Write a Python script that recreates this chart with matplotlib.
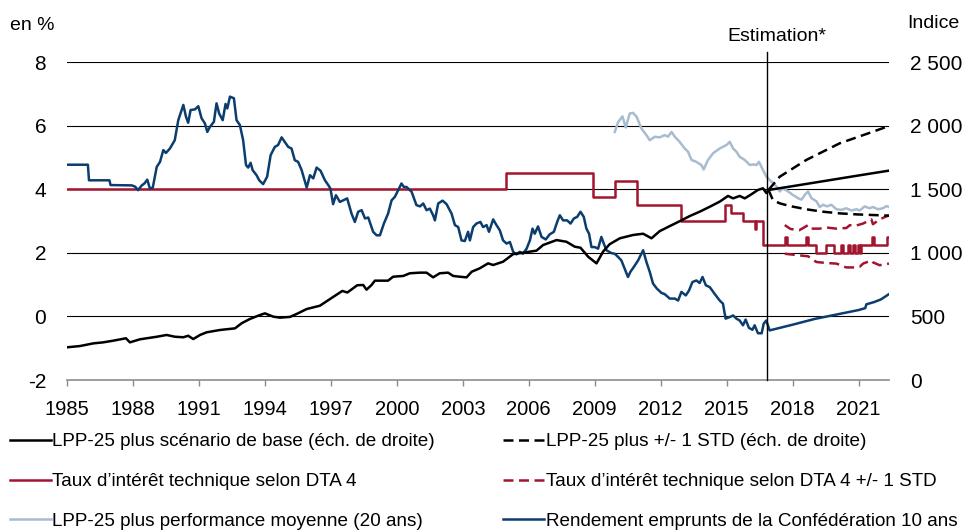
import matplotlib
matplotlib.use("Agg")
import matplotlib.pyplot as plt

# Rendement emprunts de la Confédération 10 ans (en %)
bond_years = [1985.00, 1985.95, 1986.00, 1986.93, 1986.98, 1987.95, 1988.10, 1988.23, 1988.40, 1988.52,
              1988.65, 1988.77, 1988.90, 1989.08, 1989.23, 1989.38, 1989.50, 1989.68, 1989.90, 1990.06,
              1990.29, 1990.41, 1990.51, 1990.62, 1990.82, 1990.97, 1991.12, 1991.27, 1991.38, 1991.50,
              1991.68, 1991.80, 1991.92, 1992.08, 1992.21, 1992.29, 1992.41, 1992.59, 1992.71, 1992.86,
              1993.01, 1993.14, 1993.24, 1993.35, 1993.44, 1993.62, 1993.74, 1993.92, 1994.10, 1994.26,
              1994.45, 1994.60, 1994.76, 1994.90, 1995.06, 1995.21, 1995.36, 1995.51, 1995.67, 1995.90,
              1996.05, 1996.20, 1996.35, 1996.53, 1996.73, 1996.88, 1996.98, 1997.10, 1997.23, 1997.41,
              1997.74, 1997.94, 1998.09, 1998.24, 1998.40, 1998.55, 1998.70, 1998.92, 1999.08, 1999.23,
              1999.41, 1999.60, 1999.76, 1999.91, 2000.06, 2000.21, 2000.32, 2000.44, 2000.67, 2000.89,
              2001.05, 2001.20, 2001.35, 2001.50, 2001.65, 2001.73, 2001.88, 2002.08, 2002.26, 2002.49,
              2002.64, 2002.79, 2002.94, 2003.09, 2003.24, 2003.32, 2003.47, 2003.62, 2003.80, 2003.92,
              2004.08, 2004.19, 2004.38, 2004.53, 2004.68, 2004.83, 2004.99, 2005.14, 2005.29, 2005.44,
              2005.59, 2005.74, 2005.90, 2006.05, 2006.17, 2006.27, 2006.42, 2006.58, 2006.77, 2006.95,
              2007.14, 2007.29, 2007.41, 2007.56, 2007.74, 2007.90, 2008.05, 2008.20, 2008.35, 2008.50,
              2008.62, 2008.74, 2008.85, 2009.00, 2009.15, 2009.30, 2009.41, 2009.53, 2009.76, 2009.91,
              2010.06, 2010.21, 2010.36, 2010.51, 2010.62, 2010.77, 2010.97, 2011.20, 2011.35, 2011.50,
              2011.65, 2011.83, 2012.03, 2012.18, 2012.41, 2012.64, 2012.79, 2012.94, 2013.14, 2013.29,
              2013.44, 2013.62, 2013.77, 2013.90, 2014.05, 2014.23, 2014.45, 2014.68, 2014.83, 2014.95,
              2015.14, 2015.29, 2015.44, 2015.59, 2015.74, 2015.86, 2016.01, 2016.17, 2016.27, 2016.42,
              2016.59, 2016.68, 2016.80, 2016.95, 2018.00, 2019.00, 2020.00, 2021.00, 2021.30, 2021.35,
              2021.70, 2022.00, 2022.38]
bond_values = [4.77, 4.77, 4.28, 4.28, 4.13, 4.12, 4.08, 3.97, 4.12, 4.18,
               4.30, 4.02, 4.05, 4.70, 4.86, 5.23, 5.14, 5.28, 5.54, 6.17,
               6.65, 6.28, 6.09, 6.49, 6.51, 6.61, 6.23, 6.07, 5.80, 5.96,
               6.12, 6.70, 6.38, 6.17, 6.68, 6.54, 6.91, 6.86, 6.17, 6.02,
               5.54, 4.76, 4.68, 4.83, 4.60, 4.44, 4.28, 4.16, 4.39, 5.07,
               5.33, 5.39, 5.63, 5.49, 5.33, 5.28, 4.91, 4.86, 4.60, 4.05,
               4.44, 4.34, 4.68, 4.58, 4.28, 4.13, 4.02, 3.53, 3.81, 3.60,
               3.71, 3.23, 2.97, 3.29, 3.34, 3.08, 3.11, 2.66, 2.55, 2.55,
               2.92, 3.23, 3.65, 3.76, 3.97, 4.18, 4.07, 4.07, 3.92, 3.50,
               3.46, 3.55, 3.34, 3.39, 3.18, 3.02, 3.55, 3.64, 3.53, 3.23,
               2.87, 2.81, 2.39, 2.37, 2.66, 2.39, 2.81, 2.92, 2.97, 2.81,
               2.87, 2.66, 3.05, 2.87, 2.71, 2.39, 2.29, 2.34, 2.03, 1.95,
               2.03, 1.97, 2.13, 2.39, 2.76, 2.60, 2.83, 2.50, 2.42, 2.58,
               2.66, 2.97, 3.18, 3.02, 3.02, 2.92, 3.08, 3.13, 3.29, 3.13,
               2.76, 2.60, 2.18, 2.18, 2.13, 2.50, 2.29, 2.08, 1.99, 1.97,
               1.87, 1.76, 1.50, 1.24, 1.40, 1.55, 1.76, 2.08, 1.71, 1.40,
               1.03, 0.87, 0.74, 0.70, 0.56, 0.56, 0.50, 0.77, 0.66, 0.82,
               1.08, 1.13, 1.05, 1.24, 0.98, 0.92, 0.71, 0.50, 0.40, -0.07,
               -0.02, 0.03, -0.07, -0.13, -0.28, -0.10, -0.36, -0.42, -0.28, -0.53,
               -0.53, -0.23, -0.13, -0.44, -0.26, -0.08, 0.06, 0.20, 0.26, 0.38,
               0.45, 0.53, 0.70]

# Taux d'intérêt technique selon DTA 4 (en %), valeurs en escalier
dta_years = [1985.00, 2004.95, 2008.92, 2009.90, 2010.90, 2012.90, 2014.90, 2015.20, 2015.75, 2016.27,
             2016.33, 2016.63, 2017.65, 2017.75, 2018.60, 2018.68, 2019.05, 2019.50, 2019.88, 2020.20,
             2020.30, 2020.50, 2020.62, 2020.75, 2020.85, 2020.95, 2021.05, 2021.12, 2021.60, 2021.68,
             2022.30, 2022.38]
dta_values = [4.00, 4.50, 3.75, 4.25, 3.50, 3.00, 3.50, 3.25, 3.00, 2.75,
              3.00, 2.25, 2.50, 2.25, 2.50, 2.25, 2.00, 2.25, 2.00, 2.25,
              2.00, 2.25, 2.00, 2.25, 2.00, 2.25, 2.00, 2.25, 2.50, 2.25,
              2.50, 2.50]

# Taux d'intérêt technique selon DTA 4 +/- 1 STD
dta_up_years = [2017.64, 2017.90, 2018.30, 2018.70, 2018.85, 2019.20, 2019.60, 2019.99, 2020.44, 2020.60,
                2020.80, 2021.20, 2021.58, 2021.65, 2021.95, 2022.38]
dta_up_values = [2.87, 2.75, 2.71, 2.87, 2.76, 2.76, 2.79, 2.76, 2.78, 2.87,
                 2.84, 2.92, 3.05, 2.90, 3.05, 3.18]
dta_lo_years = [2017.64, 2018.30, 2018.70, 2019.08, 2019.53, 2019.99, 2020.44, 2020.80, 2021.05, 2021.20,
                2021.58, 2021.65, 2021.95, 2022.38]
dta_lo_values = [1.97, 1.92, 1.89, 1.71, 1.68, 1.66, 1.54, 1.54, 1.56, 1.66,
                 1.76, 1.70, 1.61, 1.66]

# LPP-25 plus performance moyenne (20 ans), en %
perf_years = [2009.91, 2010.06, 2010.26, 2010.41, 2010.59, 2010.74, 2010.90, 2011.12, 2011.35, 2011.50,
              2011.73, 2011.95, 2012.18, 2012.33, 2012.49, 2012.64, 2012.86, 2013.09, 2013.24, 2013.40,
              2013.62, 2013.85, 2013.95, 2014.15, 2014.38, 2014.68, 2014.99, 2015.14, 2015.29, 2015.44,
              2015.59, 2015.82, 2016.05, 2016.20, 2016.35, 2016.47, 2016.65, 2016.80, 2017.03, 2017.26,
              2017.41, 2017.56, 2017.79, 2018.01, 2018.24, 2018.40, 2018.55, 2018.70, 2018.85, 2019.08,
              2019.23, 2019.38, 2019.56, 2019.76, 2019.99, 2020.21, 2020.44, 2020.67, 2020.90, 2021.05,
              2021.27, 2021.50, 2021.65, 2021.88, 2022.10, 2022.26, 2022.38]
perf_values = [5.80, 6.11, 6.29, 5.94, 6.38, 6.40, 6.28, 5.91, 5.70, 5.54,
               5.65, 5.63, 5.70, 5.65, 5.80, 5.65, 5.49, 5.28, 5.18, 4.92,
               4.86, 4.76, 4.62, 4.92, 5.13, 5.28, 5.39, 5.49, 5.28, 5.18,
               5.02, 4.92, 4.76, 4.78, 4.76, 4.86, 4.60, 4.40, 4.24, 4.09,
               3.93, 4.03, 3.93, 3.82, 3.72, 3.67, 3.82, 3.93, 3.72, 3.62,
               3.44, 3.51, 3.46, 3.51, 3.37, 3.35, 3.40, 3.33, 3.37, 3.33,
               3.46, 3.40, 3.44, 3.37, 3.40, 3.47, 3.44]

# LPP-25 plus scénario de base (indice, échelle de droite)
lpp_years = [1985.00, 1985.59, 1986.20, 1986.65, 1987.10, 1987.68, 1987.86, 1988.32, 1989.08, 1989.53,
             1989.91, 1990.29, 1990.51, 1990.74, 1991.05, 1991.35, 1991.95, 1992.26, 1992.64, 1992.94,
             1993.32, 1993.70, 1994.00, 1994.38, 1994.68, 1995.14, 1995.44, 1995.90, 1996.50, 1997.06,
             1997.52, 1997.75, 1998.20, 1998.47, 1998.62, 1998.85, 1999.00, 1999.60, 1999.83, 2000.29,
             2000.59, 2001.05, 2001.35, 2001.65, 2001.95, 2002.33, 2002.56, 2002.86, 2003.17, 2003.40,
             2003.77, 2004.15, 2004.38, 2004.83, 2005.29, 2005.74, 2006.35, 2006.65, 2007.26, 2007.71,
             2008.09, 2008.35, 2008.70, 2009.08, 2009.38, 2009.68, 2010.14, 2010.74, 2011.20, 2011.58,
             2011.95, 2012.41, 2012.94, 2013.32, 2013.77, 2014.23, 2014.68, 2015.06, 2015.29, 2015.59,
             2015.82, 2016.05, 2016.42, 2016.65, 2016.80, 2016.90, 2018.00, 2019.00, 2020.00, 2021.00,
             2022.38]
lpp_values = [257, 267, 288, 296, 309, 328, 296, 320, 340, 354,
              340, 336, 348, 322, 354, 375, 393, 399, 406, 446,
              480, 506, 524, 498, 490, 496, 519, 558, 584, 648,
              700, 688, 745, 747, 710, 747, 781, 781, 812, 818,
              839, 844, 844, 807, 839, 844, 818, 812, 807, 851,
              878, 917, 904, 930, 990, 1001, 1017, 1061, 1100, 1087,
              1048, 1040, 969, 917, 1010, 1068, 1114, 1140, 1150, 1114,
              1170, 1210, 1255, 1289, 1323, 1362, 1402, 1447, 1428, 1447,
              1428, 1452, 1494, 1507, 1470, 1494, 1524, 1552, 1580, 1608,
              1646]

# LPP-25 plus +/- 1 STD (échelle de droite)
lpp_up_years = [2016.90, 2017.41, 2018.62, 2020.14, 2021.65, 2022.38]
lpp_up_values = [1494, 1598, 1730, 1861, 1952, 1997]
lpp_lo_years = [2016.90, 2017.10, 2017.41, 2017.86, 2018.62, 2019.38, 2020.14, 2020.90, 2021.65, 2022.38]
lpp_lo_values = [1494, 1415, 1389, 1368, 1342, 1323, 1310, 1302, 1297, 1292]

estimation_year = 2016.85
x_ticks = list(range(1985, 2022, 3))
left_ticks = [-2, 0, 2, 4, 6, 8]
right_ticks = [0, 500, 1000, 1500, 2000, 2500]
right_labels = ["0", "500", "1 000", "1 500", "2 000", "2 500"]

BLUE = "#0b3d6e"
RED = "#a3152f"
GREY = "#a9bccf"

plt.rcParams["font.family"] = ["Liberation Sans", "DejaVu Sans"]

W, H = 972, 532
fig = plt.figure(figsize=(W / 100, H / 100), dpi=100)
ax = fig.add_axes([67 / W, 1 - 380 / H, (889 - 67) / W, (380 - 62) / H])
ax2 = ax.twinx()

for y in [0, 2, 4, 6, 8]:
    ax.axhline(y, color="black", lw=0.8, zorder=1)

lw = 1.8
dash = (0, (4, 2.2))
l_red, = ax.plot(dta_years, dta_values, color=RED, lw=lw, drawstyle="steps-post", zorder=3)
l_red_d, = ax.plot(dta_up_years, dta_up_values, color=RED, lw=lw, ls=dash, zorder=3)
ax.plot(dta_lo_years, dta_lo_values, color=RED, lw=lw, ls=dash, zorder=3)
l_grey, = ax.plot(perf_years, perf_values, color=GREY, lw=lw, zorder=3)
l_blue, = ax.plot(bond_years, bond_values, color=BLUE, lw=lw, zorder=4)

l_black, = ax2.plot(lpp_years, lpp_values, color="black", lw=lw)
l_black_d, = ax2.plot(lpp_up_years, lpp_up_values, color="black", lw=lw, ls=dash)
ax2.plot(lpp_lo_years, lpp_lo_values, color="black", lw=lw, ls=dash)

# estimation marker
ax.plot([estimation_year, estimation_year], [-2, 8.31], color="black", lw=1, clip_on=False, zorder=5)
ax.text(2017.3, 8.8, "Estimation*", ha="center", va="center", fontsize=14)

ax.set_xlim(1985, 2022.38)
ax.set_ylim(-2, 8)
ax2.set_ylim(0, 2500)

ax.set_xticks(x_ticks)
ax.set_xticklabels([str(t) for t in x_ticks])
ax.tick_params(axis="x", direction="out", length=4.5, width=1, color="#8c8c8c",
               labelsize=14.5, pad=10)
ax.set_yticks(left_ticks)
ax.set_yticklabels([str(t) for t in left_ticks])
ax.tick_params(axis="y", length=0, labelsize=15, pad=15)
ax2.set_yticks(right_ticks)
ax2.set_yticklabels(right_labels)
ax2.tick_params(axis="y", length=0, labelsize=15, pad=15)

for a in (ax, ax2):
    for side in ("top", "left", "right", "bottom"):
        a.spines[side].set_visible(False)
ax.spines["bottom"].set_visible(True)
ax.spines["bottom"].set_color("#8c8c8c")
ax.spines["bottom"].set_linewidth(1.2)

fig.text(10 / W, 1 - 25 / H, "en %", fontsize=14, va="center", ha="left")
fig.text(907 / W, 1 - 24 / H, "Indice", fontsize=14, va="center", ha="left")

leg_kw = dict(loc="upper left", frameon=False, fontsize=13.6, handlelength=2.15,
              handletextpad=0.1, labelspacing=1.2, borderpad=0, borderaxespad=0)
leg1 = fig.legend([l_black, l_red, l_grey],
                  ["LPP-25 plus scénario de base (éch. de droite)",
                   "Taux d’intérêt technique selon DTA 4",
                   "LPP-25 plus performance moyenne (20 ans)"],
                  bbox_to_anchor=(10 / W, 1 - 433 / H), **leg_kw)
leg2 = fig.legend([l_black_d, l_red_d, l_blue],
                  ["LPP-25 plus +/- 1 STD (éch. de droite)",
                   "Taux d’intérêt technique selon DTA 4 +/- 1 STD",
                   "Rendement emprunts de la Confédération 10 ans"],
                  bbox_to_anchor=(503 / W, 1 - 433 / H), **leg_kw)

fig.savefig("out.png", dpi=100)
